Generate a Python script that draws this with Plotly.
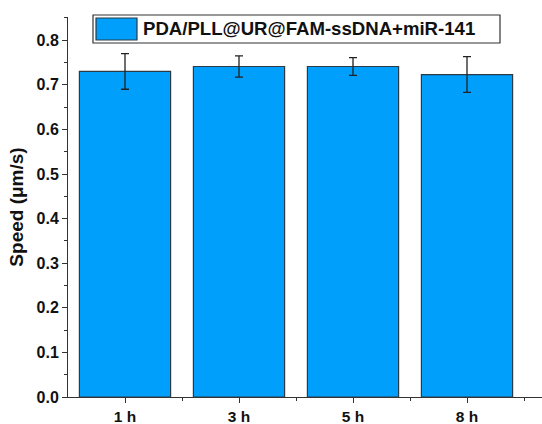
import plotly.graph_objects as go

# Motor speed over time
categories = ["1 h", "3 h", "5 h", "8 h"]
speed = [0.730, 0.741, 0.741, 0.723]
speed_err = [0.040, 0.024, 0.020, 0.040]
series_name = "PDA/PLL@UR@FAM-ssDNA+miR-141"
y_ticks = [0.0, 0.1, 0.2, 0.3, 0.4, 0.5, 0.6, 0.7, 0.8]

W, H = 542, 424
L, R, T, B = 68, 0, 17, 27
plot_w = W - L - R
plot_h = H - T - B
px_per_cat = 114.0
x_max = -0.5 + plot_w / px_per_cat

font_family = "Liberation Sans, Arial, sans-serif"
bar_color = "#009ffb"
edge_color = "#2b3a45"

fig = go.Figure()
fig.add_trace(go.Bar(
    x=list(range(len(categories))),
    y=speed,
    width=0.8,
    name=series_name,
    marker=dict(color=bar_color, line=dict(color=edge_color, width=1.2)),
    error_y=dict(type="data", array=speed_err, visible=True,
                 color="#222222", thickness=1.3, width=4),
    showlegend=False,
))

fig.update_layout(
    width=W, height=H,
    margin=dict(l=L, r=R, t=T, b=B),
    paper_bgcolor="white", plot_bgcolor="white",
    font=dict(family=font_family, color="#111111"),
    xaxis=dict(
        range=[-0.5, x_max],
        tickmode="array",
        tickvals=list(range(len(categories))),
        ticktext=categories,
        ticks="outside", ticklen=5, tickwidth=1, tickcolor="#333",
        showline=True, linecolor="#333", linewidth=1,
        showgrid=False, zeroline=False,
        tickfont=dict(size=15.5, family=font_family, weight="bold", color="#111"),
        minor=dict(tickvals=[0.5, 1.5, 2.5, 3.5], ticks="outside",
                   ticklen=3, tickcolor="#333"),
    ),
    yaxis=dict(
        range=[0, 0.852],
        tickmode="array",
        tickvals=y_ticks,
        ticktext=[f"{v:.1f}" for v in y_ticks],
        ticks="outside", ticklen=5, tickwidth=1, tickcolor="#333",
        showline=True, linecolor="#333", linewidth=1,
        showgrid=False, zeroline=False,
        tickfont=dict(size=16, family=font_family, weight="bold", color="#111"),
        minor=dict(dtick=0.05, ticks="outside", ticklen=3, tickcolor="#333"),
        title=dict(text="Speed (μm/s)", standoff=7,
                   font=dict(size=19, family=font_family, weight="bold", color="#111")),
    ),
)

# Legend box with swatch
fig.add_shape(type="rect", xref="paper", yref="paper",
              x0=(93 - L) / plot_w, x1=(500 - L) / plot_w,
              y0=(H - B - 43) / plot_h, y1=(H - B - 15) / plot_h,
              line=dict(color="#333", width=1.2), fillcolor="white")
fig.add_shape(type="rect", xref="paper", yref="paper",
              x0=(96 - L) / plot_w, x1=(137 - L) / plot_w,
              y0=(H - B - 40) / plot_h, y1=(H - B - 18) / plot_h,
              line=dict(color=edge_color, width=1.2), fillcolor=bar_color)
fig.add_annotation(xref="paper", yref="paper",
                   x=(141 - L) / plot_w, y=(H - B - 29) / plot_h,
                   xanchor="left", yanchor="middle", showarrow=False,
                   text=series_name,
                   font=dict(size=18.6, family=font_family, weight="bold", color="#111"))

fig.write_html("out.html")
